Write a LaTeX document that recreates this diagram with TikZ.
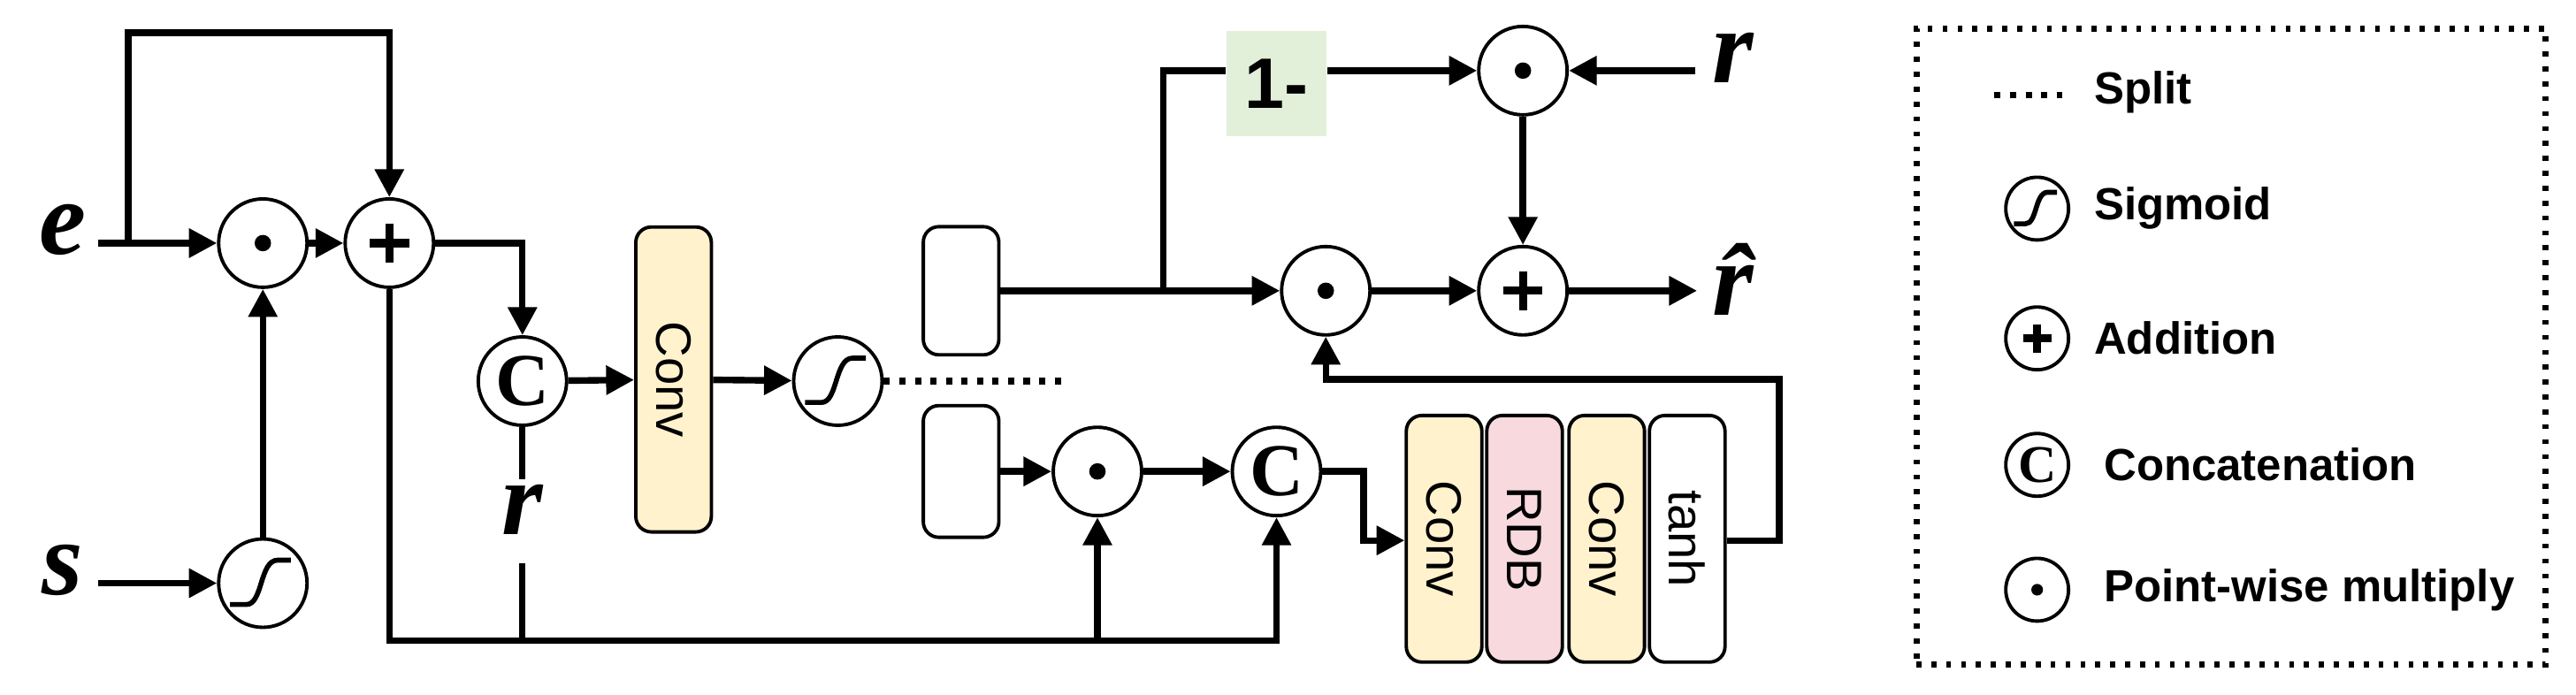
\documentclass[tikz,border=0pt]{standalone}
\usepackage{fontspec}
\setmainfont{Liberation Serif}
\setsansfont{Liberation Sans}
\usetikzlibrary{arrows.meta}
\definecolor{convc}{HTML}{FFF2CC}
\definecolor{rdbc}{HTML}{F8D9DE}
\definecolor{onec}{HTML}{E2F0D9}
\newcommand\dotop[4][1]{\node[op,minimum size=#1 cm] (#2) at (#3,#4) {}; \fill (#3,#4) circle[radius=5*#1];}
\newcommand\plusop[4][1]{\node[op,minimum size=#1 cm] (#2) at (#3,#4) {}; \draw[line width=2.6pt] (#3-12*#1,#4)--(#3+12*#1,#4) (#3,#4-12*#1)--(#3,#4+12*#1);}
\newcommand\sigop[4][1]{\node[op,minimum size=#1 cm] (#2) at (#3,#4) {}; \draw[line width=1.6pt] (#3-20*#1,#4+13*#1)--(#3-10*#1,#4+13*#1) .. controls (#3,#4+13*#1) and (#3-2*#1,#4-14*#1) .. (#3+9*#1,#4-14*#1) -- (#3+17*#1,#4-14*#1);}
\newcommand\catop[4][1]{\pgfmathsetmacro\catfs{24*#1}\node[op,minimum size=#1 cm,font=\fontsize{\catfs}{\catfs}\selectfont\bfseries] (#2) at (#3,#4) {C};}
\begin{document}
\begin{tikzpicture}[x=0.01858cm,y=-0.01858cm,
  op/.style={circle,draw,line width=1.1pt,inner sep=0pt,fill=white},
  ln/.style={line width=2.1pt},
  ar/.style={ln,-{Triangle[length=9pt,width=9pt]}},
  box/.style={draw,line width=1.1pt,rounded corners=5pt,minimum width=0.855cm,inner sep=0pt},
  blk/.style={box,minimum height=2.79cm,font=\sffamily\fontsize{16}{16}\selectfont},
  var/.style={font=\fontsize{34}{34}\selectfont\bfseries\itshape},
  leg/.style={anchor=west,font=\sffamily\bfseries\fontsize{14.5}{15}\selectfont}]
\useasboundingbox (0,0) rectangle (1568,423);
% left part
\node[var] (e) at (38,140) {e};
\node[var] (s) at (38,347) {s};
\coordinate (ein) at (60,148);
\coordinate (sin) at (60,355);
\dotop{d1}{160}{148}
\plusop{p1}{237}{148}
\sigop{sg1}{160}{355}
\coordinate (b1) at (78,148);
\coordinate (t1) at (78,20);
\draw[ar] (ein)--(d1);
\draw[ar] (b1)--(t1)-|(p1);
\draw[ar] (d1)--(p1);
\draw[ar] (sin)--(sg1);
\draw[ar] (sg1)--(d1);
\catop{c1}{318}{232}
\draw[ar] (p1)-|(c1);
\node[blk,fill=convc,minimum height=3.45cm] (cv1) at (410,231) {\rotatebox{-90}{Conv}};
\draw[ar] (c1)--(cv1);
\sigop{sg2}{510}{232}
\draw[ar] (cv1)--(sg2);
\coordinate (sp) at (648,232);
\draw[ln,dash pattern=on 2pt off 3pt] (sg2)--(sp);
% boxes after split
\node[box,minimum height=1.45cm] (tb) at (585,177) {};
\node[box,minimum height=1.49cm] (bb) at (585,287) {};
% bottom routes
\coordinate (q1) at (237,390);
\coordinate (rt) at (318,292);
\coordinate (rb) at (318,343);
\coordinate (q2) at (318,390);
\node[var] (rl) at (318,310) {r};
\dotop{d3}{668}{287}
\catop{c2}{777}{287}
\draw[ar] (p1)--(q1)-|(d3);
\draw[ln] (c1)--(rt);
\draw[ln] (rb)--(q2);
\draw[ar] (q2)-|(c2);
\draw[ar] (bb)--(d3);
\draw[ar] (d3)--(c2);
% stack
\node[blk,fill=convc] (cv2) at (879,328) {\rotatebox{-90}{Conv}};
\node[blk,fill=rdbc] (rdb) at (928,328) {\rotatebox{-90}{RDB}};
\node[blk,fill=convc] (cv3) at (978,328) {\rotatebox{-90}{Conv}};
\node[blk,fill=white] (th) at (1027,328) {\rotatebox{-90}{tanh}};
\coordinate (k1) at (830,287);
\coordinate (k2) at (830,329);
\draw[ar] (c2)--(k1)--(k2)--(k2-|cv2.west);
% upper right
\dotop{d2}{807}{177}
\dotop{dt}{927}{43}
\plusop{p2}{927}{177}
\node[fill=onec,minimum width=1.13cm,minimum height=1.19cm,inner sep=0pt,font=\sffamily\bfseries\fontsize{23}{23}\selectfont] (om) at (777,51) {1-};
\coordinate (j1) at (708,177);
\coordinate (j2) at (708,43);
\draw[ar] (tb)--(d2);
\draw[ln] (j1)--(j2)--(j2-|om.west);
\draw[ar] (j2-|om.east)--(dt);
\node[var] (rt2) at (1055,35) {r};
\coordinate (rin) at (1032,43);
\draw[ar] (rin)--(dt);
\draw[ar] (dt)--(p2);
\draw[ar] (d2)--(p2);
\node[var] (rh) at (1055,170) {\^{r}};
\coordinate (rout) at (1033,177);
\draw[ar] (p2)--(rout);
\coordinate (f1) at (1083,329);
\coordinate (f2) at (1083,231);
\draw[ar] (th.east|-f1)--(f1)--(f2)-|(d2);
% legend
\node[draw,line width=2pt,dash pattern=on 1.6pt off 3.2pt,minimum width=7.12cm,minimum height=7.2cm] (lg) at (1358,211) {};
\coordinate (s1) at (1214,58);
\coordinate (s2) at (1255,58);
\draw[ln,dash pattern=on 2pt off 3pt] (s1)--(s2);
\node[leg] (l1) at (1268,56) {Split};
\sigop[0.71]{ls}{1240}{127}
\node[leg] (l2) at (1268,127) {Sigmoid};
\plusop[0.71]{lp}{1240}{206}
\node[leg] (l3) at (1268,206) {Addition};
\catop[0.71]{lc}{1240}{283}
\node[leg] (l4) at (1274,283) {Concatenation};
\dotop[0.71]{ld}{1240}{359}
\node[leg] (l5) at (1274,359) {Point-wise multiply};
\end{tikzpicture}
\end{document}
